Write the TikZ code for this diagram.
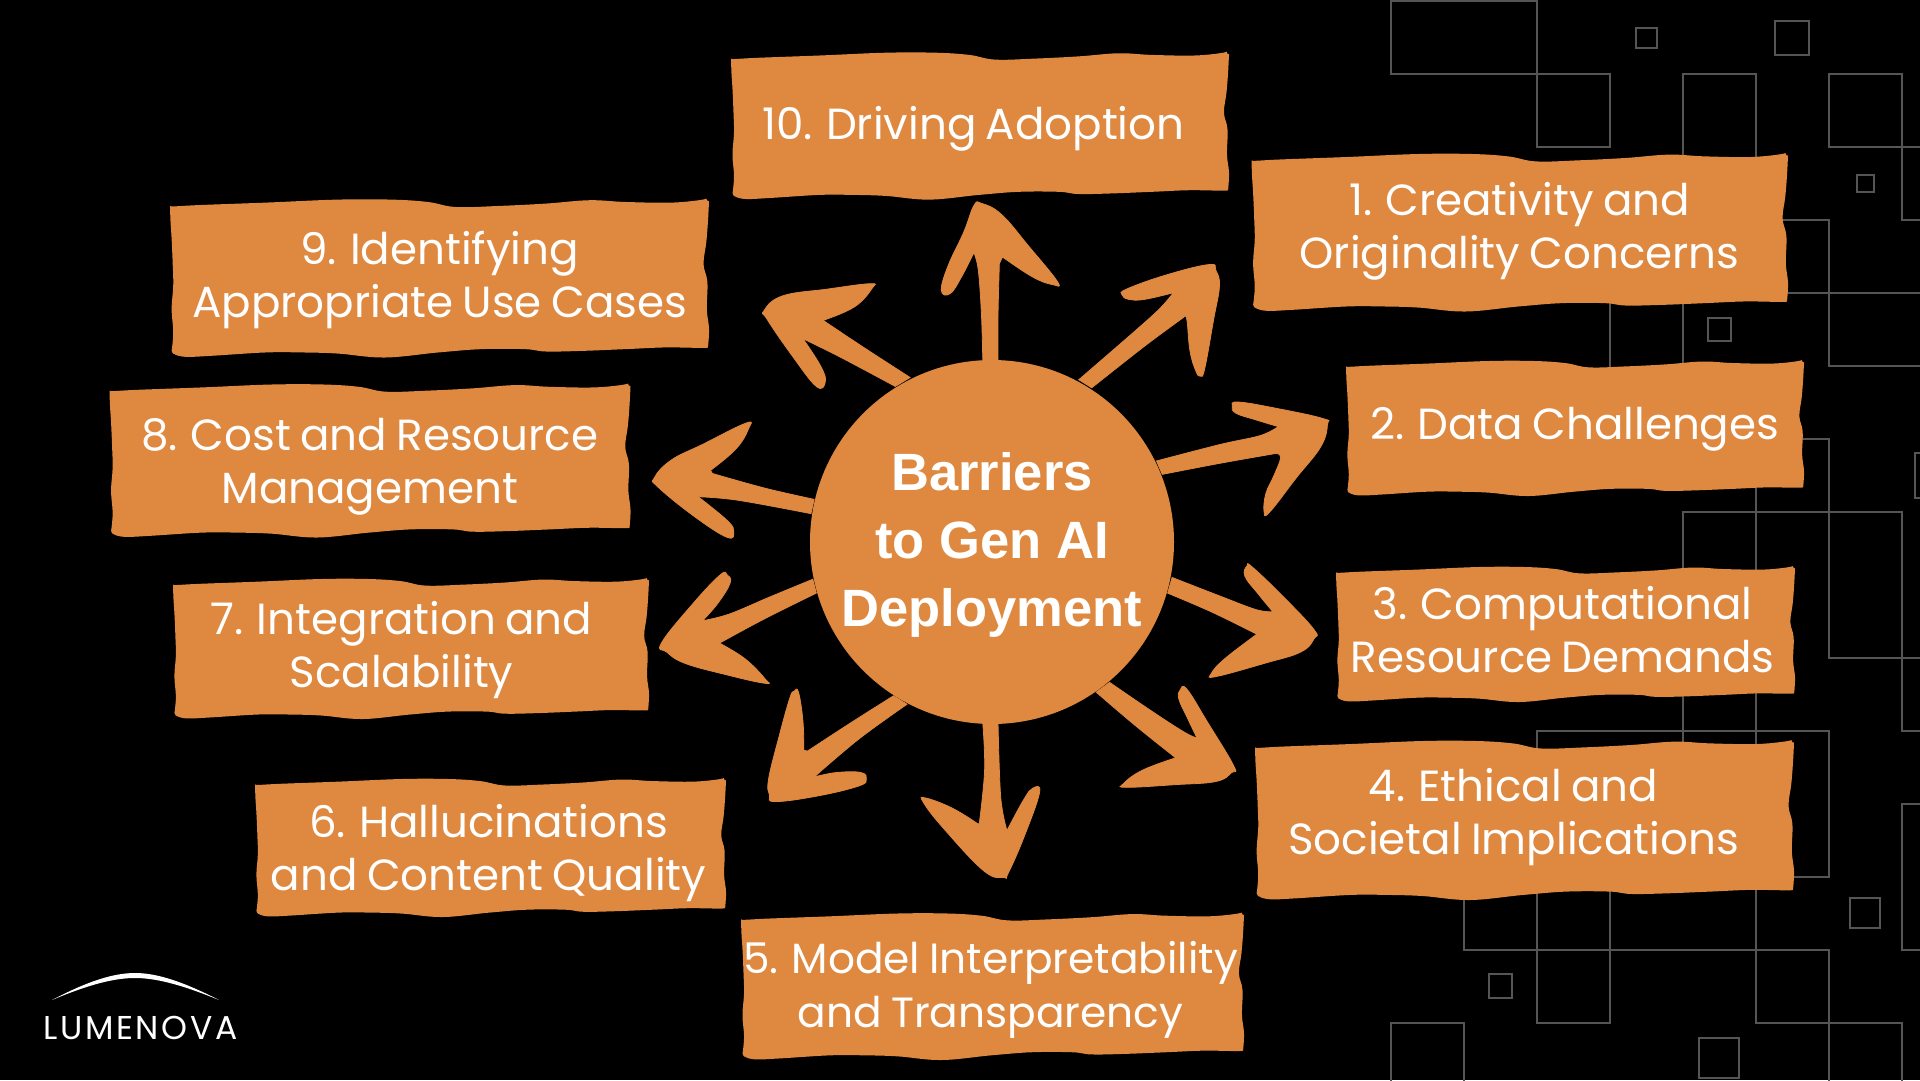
\documentclass[tikz,border=0pt]{standalone}
\usepackage{fontspec}
\setmainfont{Poppins}[WordSpace=0.8]
\newfontfamily\hubfont{Liberation Sans}[BoldFont={Liberation Sans Bold}]
\newfontfamily\logofont{Poppins}[LetterSpace=8]
\definecolor{barrier}{HTML}{DF883F}
\definecolor{gridline}{HTML}{555555}
\newcommand{\lstrut}{\rule{0pt}{36pt}\rule[-17pt]{0pt}{17pt}}
\newcommand{\hstrut}{\rule{0pt}{46pt}\rule[-22pt]{0pt}{22pt}}
\newcommand{\wavybox}[4]{%
  \pgfmathsetmacro{\wbw}{#3-#1}\pgfmathsetmacro{\wbh}{#4-#2}%
  \begin{scope}[shift={(#1,#2)},x=\wbw pt,y=-\wbh pt]
    \fill[barrier,rounded corners=1pt]
      plot[smooth,tension=.6] coordinates {(0,.047)(.045,.036)(.178,.019)(.311,0)(.411,0)(.478,.015)(.531,.047)(.611,.040)(.698,.025)(.778,.004)(.845,.015)(.931,.019)(.995,0)}
      -- plot[smooth,tension=.6] coordinates {(1,.015)(.998,.142)(.995,.269)(.990,.407)(.997,.523)(.996,.693)(1,.820)(.998,.943)}
      -- plot[smooth,tension=.6] coordinates {(.998,.943)(.925,.936)(.845,.947)(.765,.958)(.698,.962)(.658,.947)(.578,.947)(.498,.968)(.398,1)(.311,.975)(.245,.968)(.178,.968)(.078,.989)(.031,.996)(.008,.983)}
      -- plot[smooth,tension=.6] coordinates {(.003,.962)(.006,.841)(.003,.693)(.006,.544)(.005,.407)(.003,.248)(.001,.142)(0,.047)}
      -- cycle;
  \end{scope}}
\tikzset{
  lbl/.style={text=white,font=\fontsize{43.6}{53}\selectfont,align=center,inner sep=0pt},
  lblsmall/.style={lbl,font=\fontsize{42.3}{52}\selectfont},
  hub/.style={text=white,font=\hubfont\bfseries\fontsize{52.5}{68}\selectfont,align=center,inner sep=0pt},
  grd/.style={draw=gridline,line width=2pt},
  arrowshape/.style={fill=barrier,draw=barrier,line width=.8pt}
}
\begin{document}
\begin{tikzpicture}[x=1pt,y=-1pt]
\useasboundingbox (0,0) rectangle (1920,1080);
\fill[black] (0,0) rectangle (1920,1080);
\clip (0,0) rectangle (1920,1080);
% background squares
\draw[grd] (1391,1) rectangle (1537,74);
\draw[grd] (1537,74) rectangle (1610,147);
\draw[grd] (1683,200) -- (1683,74) -- (1756,74) -- (1756,200);
\draw[grd] (1829,74) rectangle (1902,147);
\draw[grd] (1902,147) rectangle (1975,220);
\draw[grd] (1770,220) -- (1829,220) -- (1829,366) -- (1975,366);
\draw[grd] (1770,293) -- (1975,293);
\draw[grd] (1610,290) -- (1610,400);
\draw[grd] (1683,290) -- (1683,400);
\draw[grd] (1780,439) -- (1829,439) -- (1829,658) -- (1975,658);
\draw[grd] (1756,480) -- (1756,1023) -- (1902,1023) -- (1902,1096);
\draw[grd] (1683,760) -- (1683,512) -- (1902,512) -- (1902,731) -- (1975,731);
\draw[grd] (1537,800) -- (1537,731) -- (1829,731) -- (1829,877) -- (1780,877);
\draw[grd] (1464,880) -- (1464,950) -- (1829,950) -- (1829,1096);
\draw[grd] (1537,880) -- (1537,1023) -- (1610,1023) -- (1610,880);
\draw[grd] (1391,1096) -- (1391,1023) -- (1464,1023) -- (1464,1096);
\draw[grd] (1902,804) rectangle (1975,950);
\draw[grd] (1915,453) rectangle (1940,498);
\draw[grd] (1636,27.5) rectangle (1657,48);
\draw[grd] (1775,21) rectangle (1809,55);
\draw[grd] (1856.5,175) rectangle (1874,192);
\draw[grd] (1707.5,317.5) rectangle (1731,341);
\draw[grd] (1850,898) rectangle (1879.5,927.5);
\draw[grd] (1489,974) rectangle (1512,998);
\draw[grd] (1699,1038) rectangle (1739,1078);
% boxes
\wavybox{1251.5}{154}{1788}{311.5}
\wavybox{1346}{361}{1804}{496}
\wavybox{1336}{567}{1795}{702}
\wavybox{1255}{741}{1794}{900}
\wavybox{741}{913.5}{1244}{1060}
\wavybox{255}{779}{726}{917}
\wavybox{173}{579}{649}{719}
\wavybox{109.5}{384.5}{630.5}{537.5}
\wavybox{170}{199.6}{709}{357.5}
\wavybox{731}{52.7}{1229}{199.6}
% arrows
\begin{scope}[shift={(640,190)},x=.4464pt,y=-.4464pt]
\filldraw[arrowshape] plot[smooth,tension=.6] coordinates {(768,385)(765,280)(758,180)(748,140)}
 -- plot[smooth,tension=.7] coordinates {(748,140)(720,195)(695,232)(675,225)(690,170)(725,95)(748,35)(765,30)(810,55)(870,125)(935,205)(925,212)(880,195)(812,150)}
 -- plot[smooth,tension=.6] coordinates {(805,165)(802,280)(802,385)} -- cycle;
\filldraw[arrowshape] plot[smooth,tension=.6] coordinates {(983,425)(1110,315)(1165,265)(1195,230)}
 -- plot[smooth,tension=.7] coordinates {(1195,230)(1130,245)(1095,245)(1080,235)(1090,222)(1180,190)(1275,167)(1290,180)(1298,215)(1285,290)(1265,400)(1255,417)(1245,405)(1232,360)(1225,290)(1218,285)}
 -- plot[smooth,tension=.6] coordinates {(1218,285)(1130,350)(1012,443)} -- cycle;
\filldraw[arrowshape] plot[smooth,tension=.6] coordinates {(1157,607)(1300,570)(1390,550)(1430,530)}
 -- plot[smooth,tension=.7] coordinates {(1430,530)(1380,515)(1335,500)(1327,485)(1340,475)(1430,490)(1530,512)(1540,525)(1525,575)(1470,645)(1410,722)(1398,720)(1402,680)(1420,640)(1435,600)(1425,590)}
 -- plot[smooth,tension=.6] coordinates {(1425,590)(1300,612)(1170,637)} -- cycle;
\filldraw[arrowshape] plot[smooth,tension=.6] coordinates {(1192,868)(1300,910)(1380,940)(1418,945)}
 -- plot[smooth,tension=.7] coordinates {(1418,945)(1385,905)(1355,865)(1360,842)(1372,845)(1440,910)(1510,985)(1510,1005)(1480,1035)(1400,1060)(1290,1090)(1280,1083)(1310,1050)(1382,995)}
 -- plot[smooth,tension=.6] coordinates {(1382,995)(1280,945)(1182,903)} -- cycle;
\filldraw[arrowshape] plot[smooth,tension=.6] coordinates {(1052,1103)(1150,1170)(1220,1215)(1248,1228)}
 -- plot[smooth,tension=.7] coordinates {(1248,1228)(1225,1180)(1207,1140)(1210,1120)(1225,1118)(1270,1190)(1330,1290)(1325,1305)(1290,1325)(1200,1332)(1090,1338)(1083,1330)(1125,1300)(1200,1272)}
 -- plot[smooth,tension=.6] coordinates {(1200,1272)(1110,1200)(1022,1125)} -- cycle;
\filldraw[arrowshape] plot[smooth,tension=.6] coordinates {(768,1195)(772,1300)(760,1420)}
 -- plot[smooth,tension=.7] coordinates {(757,1420)(700,1385)(640,1362)(635,1372)(680,1430)(770,1525)(815,1540)(825,1530)(860,1450)(895,1350)(880,1340)(860,1365)(822,1435)}
 -- plot[smooth,tension=.6] coordinates {(822,1435)(808,1360)(802,1195)} -- cycle;
\filldraw[arrowshape] plot[smooth,tension=.6] coordinates {(568,1133)(470,1195)(375,1257)}
 -- plot[smooth,tension=.7] coordinates {(367,1255)(365,1190)(355,1125)(345,1123)(335,1140)(310,1230)(288,1320)(290,1355)(303,1370)(400,1357)(490,1335)(507,1320)(495,1305)(440,1305)(390,1315)}
 -- plot[smooth,tension=.6] coordinates {(390,1315)(490,1230)(598,1152)} -- cycle;
\filldraw[arrowshape] plot[smooth,tension=.6] coordinates {(387,872)(290,912)(200,950)(140,965)}
 -- plot[smooth,tension=.7] coordinates {(140,965)(175,925)(202,880)(195,862)(180,862)(120,925)(48,1015)(60,1035)(100,1060)(190,1085)(280,1105)(280,1095)(235,1050)(178,1015)}
 -- plot[smooth,tension=.6] coordinates {(178,1015)(280,960)(395,903)} -- cycle;
\filldraw[arrowshape] plot[smooth,tension=.6] coordinates {(390,693)(280,668)(162,635)}
 -- plot[smooth,tension=.7] coordinates {(158,628)(215,580)(243,535)(238,522)(140,570)(70,605)(32,645)(40,665)(120,730)(195,778)(210,765)(195,740)(130,687)}
 -- plot[smooth,tension=.6] coordinates {(130,687)(220,695)(383,725)} -- cycle;
\filldraw[arrowshape] plot[smooth,tension=.6] coordinates {(605,420)(500,352)(410,292)}
 -- plot[smooth,tension=.7] coordinates {(410,292)(480,262)(520,220)(515,210)(420,222)(320,237)(278,270)(285,290)(340,370)(395,440)(415,430)(405,395)(365,333)}
 -- plot[smooth,tension=.6] coordinates {(365,333)(450,375)(572,440)} -- cycle;
\end{scope}
% hub
\fill[barrier] (992,542) circle (182);
\node[hub] (centre) at (992,546) {\hstrut Barriers\\\hstrut to Gen AI\\\hstrut Deployment};
% labels
\node[lbl] (b10) at (973.5,130) {\lstrut 10. Driving Adoption};
\node[lbl] (b1) at (1519.6,232.5) {\lstrut 1. Creativity and\\\lstrut Originality Concerns};
\node[lbl] (b2) at (1574.7,430) {\lstrut 2. Data Challenges};
\node[lbl] (b3) at (1562.5,636.5) {\lstrut 3. Computational\\\lstrut Resource Demands};
\node[lbl] (b4) at (1513.5,818) {\lstrut 4. Ethical and\\\lstrut Societal Implications};
\node[lblsmall] (b5) at (990.6,991) {\lstrut 5. Model Interpretability\\\lstrut and Transparency};
\node[lbl] (b6) at (488.6,854.5) {\lstrut 6. Hallucinations\\\lstrut and Content Quality};
\node[lbl] (b7) at (401.6,651.8) {\lstrut 7. Integration and\\\lstrut Scalability};
\node[lbl] (b8) at (369.8,467.5) {\lstrut 8. Cost and Resource\\\lstrut Management};
\node[lbl] (b9) at (439.6,281) {\lstrut 9. Identifying\\\lstrut Appropriate Use Cases};
% logo
\fill[white] (52,1000) .. controls (90,980) and (115,973) .. (135,973) .. controls (155,973) and (180,980) .. (219,1000) .. controls (180,984) and (155,978) .. (135,978) .. controls (115,978) and (90,984) .. (52,1000) -- cycle;
\node[text=white,font=\logofont\fontsize{33}{33}\selectfont,inner sep=0pt] (logo) at (140.5,1028) {LUMENOVA};
\end{tikzpicture}
\end{document}
